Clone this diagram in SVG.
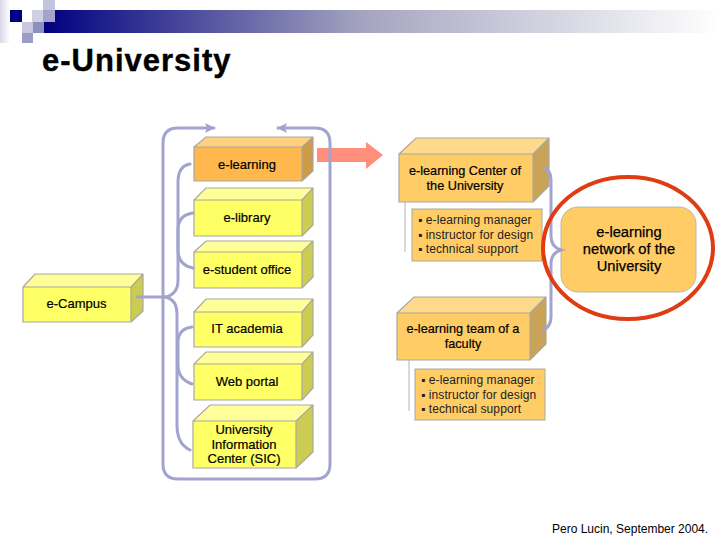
<svg xmlns="http://www.w3.org/2000/svg" width="720" height="540" viewBox="0 0 720 540">
<style>
text{font-family:"Liberation Sans",Arial,sans-serif;fill:#000}
.lbl{font-size:13px;text-anchor:middle;stroke:#000;stroke-width:.2px}
.lbo{font-size:12.7px;text-anchor:middle;stroke:#000;stroke-width:.2px}
.net{font-size:14.7px;text-anchor:middle;stroke:#000;stroke-width:.25px}
.lst{font-size:12px;fill:#222;letter-spacing:.1px}
.edge{stroke:#a8a8a0;stroke-width:1.2}
.y .f{fill:#ffff66}.y .t{fill:#ffff99}.y .s{fill:#cccc52}
.o .f{fill:#ffcc66}.o .t{fill:#ffd98c}.o .s{fill:#c9a356}
.o2 .f{fill:#ffb84d}.o2 .t{fill:#ffd080}.o2 .s{fill:#cc9a48}
.list{fill:#ffcc66;stroke:#a8a8a0;stroke-width:1}
.cn{fill:none;stroke:#a3a3cf;stroke-width:3;stroke-linecap:round}
.thin{stroke:#b4b4b4;stroke-width:1}
</style>
<defs>
<linearGradient id="bar" x1="0" x2="1" y1="0" y2="0"><stop offset="0" stop-color="#000080"/><stop offset=".47" stop-color="#a4a4c0"/><stop offset="1" stop-color="#ffffff"/></linearGradient>
<linearGradient id="fade" x1="0" x2="1" y1="0" y2="0"><stop offset="0" stop-color="#d8d8ea"/><stop offset="1" stop-color="#ffffff"/></linearGradient>
<marker id="ah" markerUnits="userSpaceOnUse" markerWidth="12" markerHeight="12" refX="9" refY="5" orient="auto"><path d="M0 0L10 5L0 10L2 5Z" fill="#a3a3cf"/></marker>
</defs>
<rect width="720" height="540" fill="#fff"/>
<g id="header">
<rect x="0" y="0" width="10" height="43" fill="url(#fade)"/>
<rect x="44" y="10" width="676" height="23" fill="url(#bar)"/>
<rect x="43" y="0" width="12" height="22" fill="#c4c4dc"/>
<rect x="43" y="10" width="12" height="12" fill="#a4a4cc"/>
<rect x="32" y="10" width="11" height="12" fill="#d0d0e4"/>
<rect x="22" y="22" width="21" height="11" fill="#c8c8e0"/>
<rect x="33" y="22" width="11" height="11" fill="#8f8fbf"/>
<rect x="22" y="33" width="11" height="10" fill="#9c9cc6"/>
<rect x="10" y="10" width="12" height="12" fill="#000080"/>
</g>
<text id="title" x="42" y="71" font-size="31" font-weight="700" letter-spacing="1" stroke="#000" stroke-width=".4">e-University</text>

<g id="frame-arrow"><path d="M317 148H366V142L383 155L366 169V162H317Z" fill="#ff8f7a"/></g>

<g id="e-learning" class="o2"><path class="f" d="M194 147H302V181H194Z"/><path class="t" d="M194 147L206 137H313L302 147Z"/><path class="s" d="M302 147L313 137V171L302 181Z"/><path d="M194 147H302V181H194ZM194 147L206 137H313V171L302 181M302 147L313 137" fill="none" class="edge"/><text class="lbl" x="247" y="168.500">e-learning</text></g>
<g id="e-library" class="y"><path class="f" d="M194 200H302V236H194Z"/><path class="t" d="M194 200L206 188H313L302 200Z"/><path class="s" d="M302 200L313 188V225L302 236Z"/><path d="M194 200H302V236H194ZM194 200L206 188H313V225L302 236M302 200L313 188" fill="none" class="edge"/><text class="lbl" x="247" y="222">e-library</text></g>
<g id="e-student-office" class="y"><path class="f" d="M194 252H302V288H194Z"/><path class="t" d="M194 252L206 241H313L302 252Z"/><path class="s" d="M302 252L313 241V277L302 288Z"/><path d="M194 252H302V288H194ZM194 252L206 241H313V277L302 288M302 252L313 241" fill="none" class="edge"/><text class="lbl" x="247" y="274">e-student office</text></g>
<g id="e-campus" class="y"><path class="f" d="M23 287H131V322H23Z"/><path class="t" d="M23 287L35 274H143L131 287Z"/><path class="s" d="M131 287L143 274V311L131 322Z"/><path d="M23 287H131V322H23ZM23 287L35 274H143V311L131 322M131 287L143 274" fill="none" class="edge"/><text class="lbl" x="76.500" y="308">e-Campus</text></g>
<g id="it-academia" class="y"><path class="f" d="M194 312H302V347H194Z"/><path class="t" d="M194 312L206 299H313L302 312Z"/><path class="s" d="M302 312L313 299V335L302 347Z"/><path d="M194 312H302V347H194ZM194 312L206 299H313V335L302 347M302 312L313 299" fill="none" class="edge"/><text class="lbl" x="247" y="333">IT academia</text></g>
<g id="web-portal" class="y"><path class="f" d="M194 364H302V400H194Z"/><path class="t" d="M194 364L206 352H313L302 364Z"/><path class="s" d="M302 364L313 352V388L302 400Z"/><path d="M194 364H302V400H194ZM194 364L206 352H313V388L302 400M302 364L313 352" fill="none" class="edge"/><text class="lbl" x="247" y="386">Web portal</text></g>
<g id="sic" class="y"><path class="f" d="M193 421H296V468H193Z"/><path class="t" d="M193 421L210 405H313L296 421Z"/><path class="s" d="M296 421L313 405V452L296 468Z"/><path d="M193 421H296V468H193ZM193 421L210 405H313V452L296 468M296 421L313 405" fill="none" class="edge"/><text class="lbl" x="244" y="434">University</text><text class="lbl" x="244" y="449">Information</text><text class="lbl" x="244" y="463">Center (SIC)</text></g>

<g id="center" class="o"><path class="f" d="M399 154H533V202H399Z"/><path class="t" d="M399 154L416 138H549L533 154Z"/><path class="s" d="M533 154L549 138V186L533 202Z"/><path d="M399 154H533V202H399ZM399 154L416 138H549V186L533 202M533 154L549 138" fill="none" class="edge"/><text class="lbo" x="465" y="175">e-learning Center of</text><text class="lbo" x="465" y="190">the University</text></g>
<g id="center-list"><line class="thin" x1="405" y1="202" x2="405" y2="252"/><rect class="list" x="412" y="209" width="130" height="52"/><text class="lst" x="418" y="224">▪ e-learning manager</text><text class="lst" x="418" y="239">▪ instructor for design</text><text class="lst" x="418" y="253">▪ technical support</text></g>
<g id="team" class="o"><path class="f" d="M397 313H530V360H397Z"/><path class="t" d="M397 313L414 297H546L530 313Z"/><path class="s" d="M530 313L546 297V344L530 360Z"/><path d="M397 313H530V360H397ZM397 313L414 297H546V344L530 360M530 313L546 297" fill="none" class="edge"/><text class="lbo" x="463" y="333">e-learning team of a</text><text class="lbo" x="463" y="348">faculty</text></g>
<g id="team-list"><line class="thin" x1="409" y1="360" x2="409" y2="411"/><rect class="list" x="415" y="369" width="130" height="51"/><text class="lst" x="421" y="384">▪ e-learning manager</text><text class="lst" x="421" y="399">▪ instructor for design</text><text class="lst" x="421" y="413">▪ technical support</text></g>
<g id="network"><rect x="561" y="207" width="135" height="85" rx="17" fill="#ffcc66" stroke="#b8b8a8" stroke-width="1"/><text class="net" x="629" y="237">e-learning</text><text class="net" x="629" y="254">network of the</text><text class="net" x="629" y="271">University</text></g>

<g id="connectors">
<path class="cn" marker-end="url(#ah)" d="M163 297V143Q163 128 178 128H214"/>
<path class="cn" marker-end="url(#ah)" d="M163 297V464Q163 479 178 479H315Q330 479 330 464V143Q330 128 315 128H278"/>
<path class="cn" d="M137 297H166"/>
<path class="cn" d="M190 164Q178 166 178 182V280Q178 294 166 297Q177 300 177 314V425Q177 444 190 450"/>
<path class="cn" d="M193 213Q178 215 178 230V250Q178 265 193 268"/>
<path class="cn" d="M192 327Q178 329 178 342V365Q178 379 192 384"/>
<path class="cn" d="M544 168Q551 171 551 180V236Q551 247 561 250Q551 253 551 264V317Q551 326 543 331"/>
</g>
<ellipse id="highlight" cx="628" cy="248" rx="85" ry="71" fill="none" stroke="#e03c14" stroke-width="4"/>
<text id="credit" x="552" y="533" font-size="12">Pero Lucin, September 2004.</text>
</svg>
